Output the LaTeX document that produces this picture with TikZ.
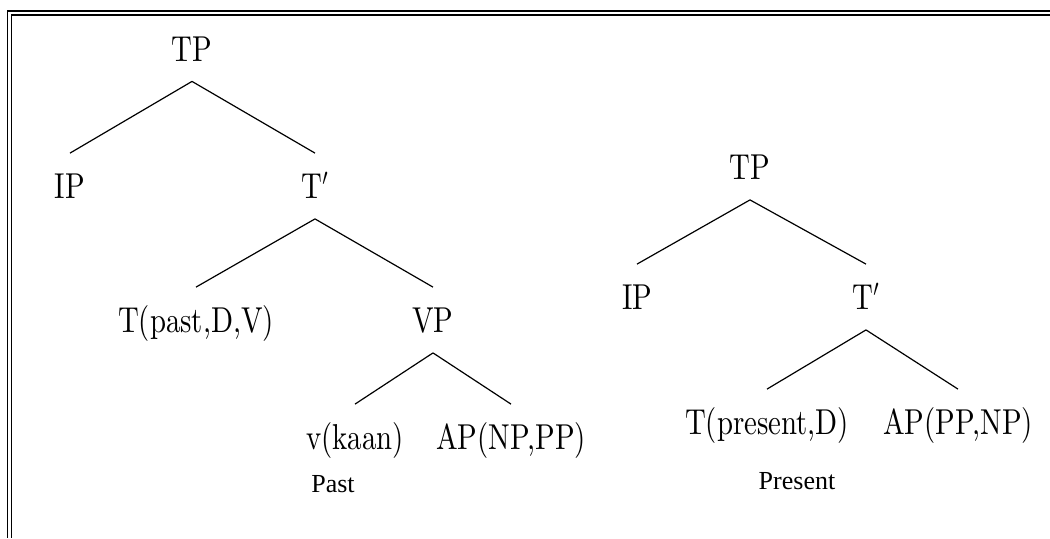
\documentclass[tikz,border=0pt]{standalone}
\usepackage{fontspec}
\newfontfamily\catfont{lmroman10-regular}[Extension=.otf]
\newfontfamily\tensefont{Liberation Serif}
\usepackage{tikz}

\begin{document}
\begin{tikzpicture}[
    x=0.5pt, y=-0.5pt,
    cat/.style = {font=\catfont\fontsize{18}{22}\selectfont, xscale=0.8, transform shape, text height=12.5pt, text depth=0pt, inner xsep=0pt, inner ysep=10pt},
    branch/.style = {draw=black, line width=0.6pt},
    tense/.style = {font=\tensefont\fontsize{13}{15}\selectfont, inner sep=0pt},
    frame/.style = {draw=black, line width=0.75pt, double, double distance=1.25pt}
]
\useasboundingbox (0,0) rectangle (1050,538);

% Frame
\draw [frame] (1050,12.75) -- (9.5,12.75) -- (9.5,538);

% Past tree
\node (tpa) [cat] at (192, 48.5) {TP};
\node (ipa) [cat] at (70, 186) {IP};
\node (tba) [cat] at (315, 186) {T$'$};
\node (ta) [cat] at (196, 320) {T(past,D,V)};
\node (vp) [cat] at (433, 320) {VP};
\node (v) [cat] at (355, 437) {v(kaan)};
\node (apa) [cat] at (511, 437) {AP(NP,PP)};
\node (past) [tense] at (333, 484) {Past};

% Present tree
\node (tpb) [cat] at (750, 167) {TP};
\node (ipb) [cat] at (637, 297) {IP};
\node (tbb) [cat] at (866, 297) {T$'$};
\node (tb) [cat] at (767, 422) {T(present,D)};
\node (apb) [cat] at (958, 422) {AP(PP,NP)};
\node (present) [tense] at (797, 481) {Present};

% Branches
\draw [branch] (tpa.south) -- (ipa.north);
\draw [branch] (tpa.south) -- (tba.north);
\draw [branch] (tba.south) -- (ta.north);
\draw [branch] (tba.south) -- (vp.north);
\draw [branch] (vp.south) -- (v.north);
\draw [branch] (vp.south) -- (apa.north);
\draw [branch] (tpb.south) -- (ipb.north);
\draw [branch] (tpb.south) -- (tbb.north);
\draw [branch] (tbb.south) -- (tb.north);
\draw [branch] (tbb.south) -- (apb.north);

\end{tikzpicture}
\end{document}
